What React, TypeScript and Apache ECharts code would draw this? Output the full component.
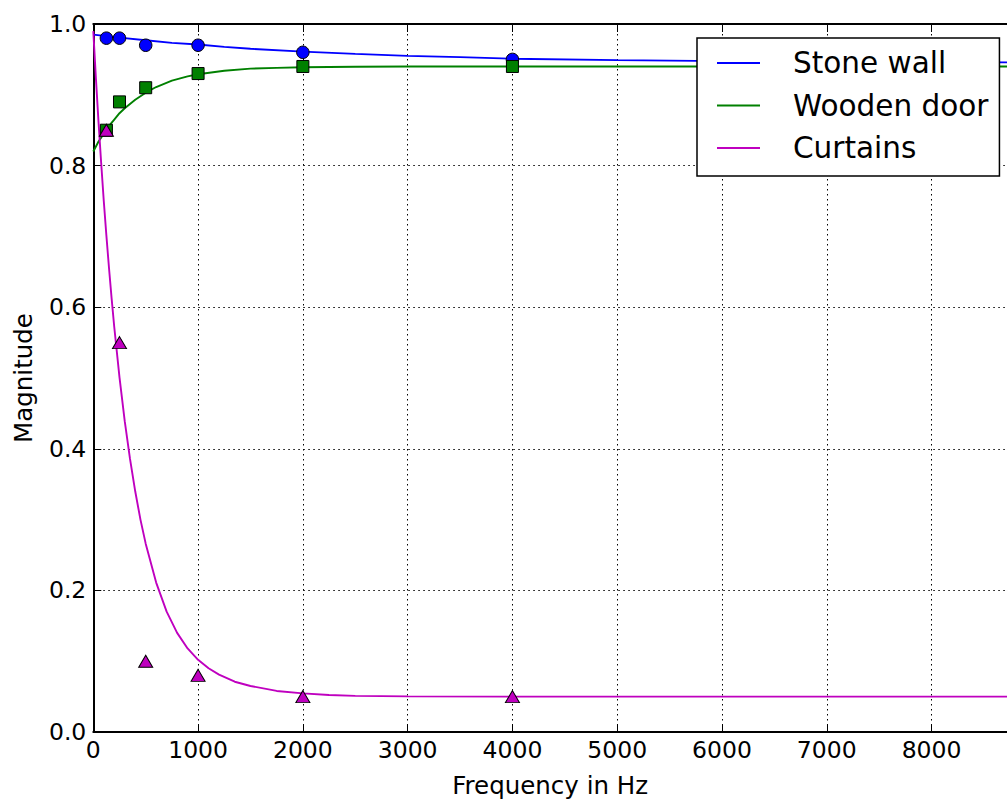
import React, { useEffect, useRef } from "react";
import * as echarts from "echarts";

// Measured points
const freqs = [125, 250, 500, 1000, 2000, 4000];
const stoneWall = [0.98, 0.98, 0.97, 0.97, 0.96, 0.95];
const woodenDoor = [0.85, 0.89, 0.91, 0.93, 0.94, 0.94];
const curtains = [0.85, 0.55, 0.1, 0.08, 0.05, 0.05];

// Fitted curves
const stoneCurveX = [0, 250, 500, 750, 1000, 1250, 1500, 2000, 2500, 3000, 3500, 4000, 5000, 6000, 7000, 8720];
const stoneCurveY = [0.985, 0.9807, 0.977, 0.9734, 0.971, 0.9677, 0.965, 0.961, 0.9578, 0.955, 0.9532, 0.951, 0.949, 0.9476, 0.9467, 0.9458];

const woodCurveX = [0, 50, 100, 150, 200, 250, 300, 400, 500, 600, 750, 900, 1000, 1250, 1500, 1750, 2000, 2500, 3000, 8720];
const woodCurveY = [0.82, 0.834, 0.845, 0.856, 0.865, 0.874, 0.881, 0.893, 0.903, 0.911, 0.92, 0.926, 0.929, 0.934, 0.937, 0.938, 0.939, 0.9397, 0.94, 0.94];

const curtainCurveX = [0, 25, 50, 75, 100, 125, 150, 175, 200, 250, 300, 350, 400, 450, 500, 600, 700, 800, 900, 1000, 1100, 1200, 1350, 1500, 1750, 2000, 2250, 2500, 3000, 4000, 8720];
const curtainCurveY = [0.99, 0.923, 0.861, 0.804, 0.75, 0.701, 0.655, 0.612, 0.572, 0.501, 0.439, 0.386, 0.34, 0.3, 0.266, 0.211, 0.17, 0.14, 0.118, 0.102, 0.09, 0.081, 0.071, 0.065, 0.058, 0.0545, 0.0523, 0.051, 0.0503, 0.05, 0.05];

const seriesNames = ["Stone wall", "Wooden door", "Curtains"];
const xTickInterval = 1000;
const yTickInterval = 0.2;

const FONT = "DejaVu Sans";
const BLUE = "#0000ff";
const GREEN = "#008000";
const MAGENTA = "#bf00bf";

const zip = (xs: number[], ys: number[]) => xs.map((x, i) => [x, ys[i]]);

export default function App() {
  const ref = useRef<HTMLDivElement>(null);

  useEffect(() => {
    if (!ref.current) return;
    const chart = echarts.init(ref.current, undefined, { renderer: "svg" });
    const gridLine = { show: true, lineStyle: { color: "#000", width: 1, type: [1.5, 3.5] as any } };
    const lineSeries = (name: string, data: number[][], color: string) => ({
      name,
      type: "line",
      data,
      symbol: "none",
      showSymbol: false,
      smooth: false,
      lineStyle: { color, width: 1.9 },
      itemStyle: { color },
      z: 2,
    });
    const scatterSeries = (name: string, ys: number[], color: string, symbol: string, size: any) => ({
      name,
      type: "scatter",
      data: zip(freqs, ys),
      symbol,
      symbolSize: size,
      itemStyle: { color, borderColor: "#000", borderWidth: 1, opacity: 1 },
      z: 3,
    });
    chart.setOption({
      animation: false,
      backgroundColor: "#fff",
      textStyle: { fontFamily: FONT },
      grid: { left: 93.3, top: 24, right: -2, bottom: 67.5, containLabel: false },
      legend: {
        orient: "vertical",
        left: 697,
        top: 38,
        data: seriesNames,
        icon: "path://M0,0 L43,0 L43,2 L0,2 Z",
        itemWidth: 43,
        itemHeight: 30,
        itemGap: 12.5,
        padding: [10, 11, 13, 20],
        borderColor: "#000",
        borderWidth: 1.5,
        backgroundColor: "#fff",
        selectedMode: false,
        textStyle: { fontSize: 29.5, lineHeight: 30, fontFamily: FONT, color: "#000", padding: [0, 0, 0, 28] },
        z: 10,
      },
      xAxis: [
        {
          type: "value",
          min: 0,
          max: 8720,
          interval: xTickInterval,
          name: "Frequency in Hz",
          nameLocation: "middle",
          nameGap: 41,
          nameTextStyle: { fontSize: 24.5, color: "#000", fontFamily: FONT },
          axisLine: { show: true, onZero: false, lineStyle: { color: "#000", width: 2 } },
          axisTick: { show: true, inside: true, length: 8, lineStyle: { color: "#000", width: 1 } },
          axisLabel: {
            show: true,
            margin: 6,
            fontSize: 23.5,
            color: "#000",
            fontFamily: FONT,
            showMaxLabel: false,
            formatter: (v: number) => String(v),
          },
          splitLine: gridLine,
        },
        {
          type: "value",
          position: "top",
          min: 0,
          max: 8720,
          interval: xTickInterval,
          axisLine: { show: true, onZero: false, lineStyle: { color: "#000", width: 2 } },
          axisTick: { show: true, inside: true, length: 8, lineStyle: { color: "#000", width: 1 } },
          axisLabel: { show: false },
          splitLine: { show: false },
        },
      ],
      yAxis: {
        type: "value",
        min: 0,
        max: 1,
        interval: yTickInterval,
        name: "Magnitude",
        nameLocation: "middle",
        nameGap: 57,
        nameRotate: 90,
        nameTextStyle: { fontSize: 24.5, color: "#000", fontFamily: FONT },
        axisLine: { show: true, onZero: false, lineStyle: { color: "#000", width: 2 } },
        axisTick: { show: true, inside: true, length: 8, lineStyle: { color: "#000", width: 1 } },
        axisLabel: {
          margin: 7,
          fontSize: 23.5,
          color: "#000",
          fontFamily: FONT,
          formatter: (v: number) => v.toFixed(1),
        },
        splitLine: gridLine,
      },
      series: [
        lineSeries(seriesNames[0], zip(stoneCurveX, stoneCurveY), BLUE),
        lineSeries(seriesNames[1], zip(woodCurveX, woodCurveY), GREEN),
        lineSeries(seriesNames[2], zip(curtainCurveX, curtainCurveY), MAGENTA),
        scatterSeries("Stone wall data", stoneWall, BLUE, "circle", 12.5),
        scatterSeries("Wooden door data", woodenDoor, GREEN, "rect", 12),
        scatterSeries("Curtains data", curtains, MAGENTA, "triangle", [14, 12]),
      ],
    });
    return () => chart.dispose();
  }, []);

  return (
    <div
      ref={ref}
      style={{ position: "fixed", left: 0, top: 0, width: 1007, height: 803, overflow: "hidden" }}
    />
  );
}
